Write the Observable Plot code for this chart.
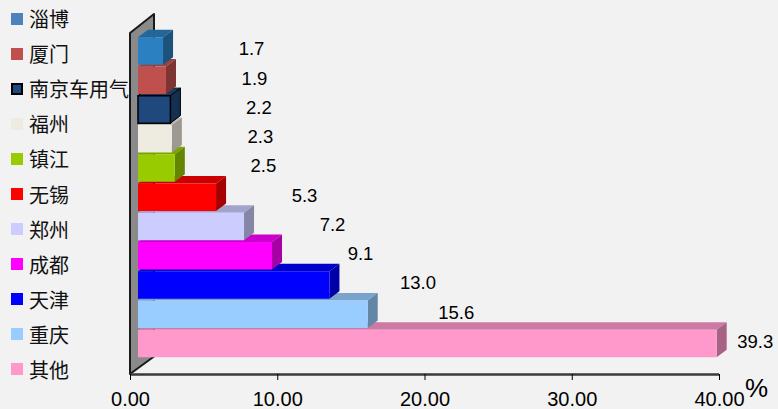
<!DOCTYPE html>
<html><head><meta charset="utf-8">
<script src="https://cdn.jsdelivr.net/npm/d3@7"></script>
<script src="https://cdn.jsdelivr.net/npm/@observablehq/plot@0.6"></script>
<style>
html,body{margin:0;padding:0;background:#f2f2f2;}
#chart{position:relative;width:778px;height:409px;overflow:hidden;background:#f2f2f2;}
#chart svg{position:absolute;left:0;top:0;}
#legend{position:absolute;left:0;top:1px;font-family:"Noto Sans CJK SC","Noto Sans",sans-serif;font-size:20px;color:#111;z-index:2;}
.row{height:35.1px;display:flex;align-items:center;white-space:nowrap;}
.sw{width:12px;height:12px;margin-left:11px;margin-right:6px;box-sizing:border-box;flex:none;}
</style></head>
<body><div id="chart"><div id="legend"></div></div>
<script>
// ---- data ----
const cities = ["淄博","厦门","南京车用气","福州","镇江","无锡","郑州","成都","天津","重庆","其他"];
const values = [1.7, 1.9, 2.2, 2.3, 2.5, 5.3, 7.2, 9.1, 13.0, 15.6, 39.3];
const barColors = ["#2a80c0","#c0504d","#1f497d","#eeece1","#99cc00","#ff0000","#ccccff","#ff00ff","#0000ff","#99ccff","#ff99cc"];
const legendColors = ["#4f81bd","#c0504d","#1f497d","#eeece1","#99cc00","#ff0000","#ccccff","#ff00ff","#0000ff","#99ccff","#ff99cc"];
const xTicks = [0, 10, 20, 30, 40];
const unitLabel = "%";
const outlined = "南京车用气";

// ---- build ----
const data = cities.map((c, i) => ({city: c, i, value: values[i], color: barColors[i]}));
const shade = (c, f) => { const r = d3.rgb(c); return d3.rgb(r.r * f, r.g * f, r.b * f).formatHex(); };
const xMax = xTicks[xTicks.length - 1];

// 3D geometry in scale units
const H = 0.47;       // half bar thickness (row units)
const DX = 0.68;      // depth along x (value units)
const DY = 0.26;      // depth along y (row units)
const yTop = -0.615, yBottom = 11.043;
const WX = 1.63, WY = 0.6; // wall depth

const strokeOf = d => d.city === outlined ? "#000" : "none";

const topFaces = data.flatMap(d => [
  {...d, y: d.i - H, x1: 0, x2: d.value},
  {...d, y: d.i - H - DY, x1: DX, x2: d.value + DX}
]);
const sideFaces = data.flatMap(d => [
  {...d, x: d.value, y1: d.i - H, y2: d.i + H},
  {...d, x: d.value + DX, y1: d.i - H - DY, y2: d.i + H - DY}
]);
const wall = [
  {x: 0, y1: yTop, y2: yBottom},
  {x: WX, y1: yTop - WY - 0.05, y2: yBottom - WY}
];
const fits = d => d.value < 0.9 * xMax;

const chart = Plot.plot({
  width: 778, height: 409,
  marginLeft: 130, marginRight: 59, marginTop: 33, marginBottom: 35,
  style: {background: "transparent", fontFamily: "'Liberation Sans', Arial, sans-serif", color: "#000"},
  x: {domain: [0, xMax], axis: null},
  y: {domain: [yTop, yBottom], reverse: true, axis: null},
  color: {type: "identity"},
  marks: [
    Plot.areaY(wall, {x: "x", y1: "y1", y2: "y2", fill: "#8a8a8a", stroke: "#1a1a1a", strokeWidth: 2, curve: "linear"}),
    Plot.ruleY([yBottom], {stroke: "#3a3a3a", strokeWidth: 2.5}),
    Plot.axisX(xTicks, {tickFormat: d => d.toFixed(2), fontSize: 20, tickSize: 6, tickPadding: 11, label: null, stroke: "#000"}),
    Plot.text([unitLabel], {frameAnchor: "bottom-right", dx: 37, dy: 22, fontSize: 26, textAnchor: "middle"}),
    Plot.areaX(topFaces, {y: "y", x1: "x1", x2: "x2", z: "i", fill: d => shade(d.color, 0.8), stroke: strokeOf, curve: "linear", dx: 8}),
    Plot.areaY(sideFaces, {x: "x", y1: "y1", y2: "y2", z: "i", fill: d => shade(d.color, 0.65), stroke: strokeOf, curve: "linear", dx: 8}),
    Plot.rect(data, {x1: 0, x2: "value", y1: d => d.i - H, y2: d => d.i + H, fill: "color", stroke: strokeOf, strokeWidth: 1.5, dx: 8}),
    Plot.text(data.filter(fits), {x: "value", y: "i", text: d => d.value.toFixed(1), dx: 96, dy: -2, fontSize: 18.5, textAnchor: "middle"}),
    Plot.text(data.filter(d => !fits(d)), {x: "value", y: "i", text: d => d.value.toFixed(1), dx: 46, dy: -2, fontSize: 18.5, textAnchor: "middle"})
  ]
});
document.getElementById("chart").appendChild(chart);

// legend
const legend = d3.select("#legend");
cities.forEach((c, i) => {
  const row = legend.append("div").attr("class", "row");
  row.append("div").attr("class", "sw")
    .style("background", legendColors[i])
    .style("border", c === outlined ? "2px solid #000" : "none");
  row.append("span").text(c);
});
</script>
</body></html>
